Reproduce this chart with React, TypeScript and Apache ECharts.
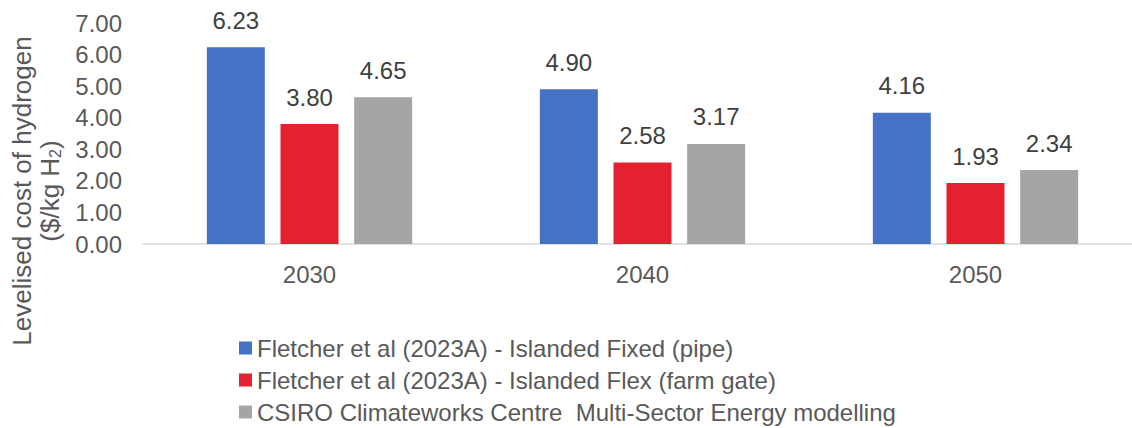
import React, { useEffect, useRef } from "react";
import * as echarts from "echarts";

const categories = ["2030", "2040", "2050"];
const seriesNames = [
  "Fletcher et al (2023A) - Islanded Fixed (pipe)",
  "Fletcher et al (2023A) - Islanded Flex (farm gate)",
  "CSIRO Climateworks Centre  Multi-Sector Energy modelling",
];
const fixedPipe = [6.23, 4.9, 4.16];
const flexFarmGate = [3.8, 2.58, 1.93];
const csiro = [4.65, 3.17, 2.34];
const colors = ["#4472C4", "#E42130", "#A5A5A5"];

const FONT = "Arial, 'Liberation Sans', sans-serif";

export default function App() {
  const ref = useRef<HTMLDivElement>(null);
  useEffect(() => {
    document.body.style.margin = "0";
    const chart = echarts.init(ref.current!, null, { renderer: "svg" });
    const values = [fixedPipe, flexFarmGate, csiro];
    chart.setOption({
      animation: false,
      textStyle: { fontFamily: FONT },
      grid: { left: 143, top: 23, width: 999, height: 221, outerBoundsMode: "none", containLabel: false },
      legend: {
        orient: "vertical",
        left: 239,
        top: 336,
        padding: 0,
        itemWidth: 13,
        itemHeight: 13,
        itemGap: 8,
        icon: "rect",
        textStyle: { fontSize: 24, color: "#595959", fontFamily: FONT },
        data: seriesNames,
      },
      xAxis: {
        type: "category",
        data: categories,
        axisTick: { show: false },
        axisLine: { lineStyle: { color: "#D9D9D9", width: 1.5 } },
        axisLabel: { fontSize: 24, color: "#595959", margin: 18, fontFamily: FONT },
      },
      yAxis: {
        type: "value",
        min: 0,
        max: 7,
        interval: 1,
        splitLine: { show: false },
        axisLine: { show: false },
        axisTick: { show: false },
        axisLabel: {
          fontSize: 24,
          color: "#595959",
          margin: 21,
          fontFamily: FONT,
          formatter: (v: number) => v.toFixed(2),
        },
      },
      graphic: [
        {
          type: "text",
          x: 22,
          y: 191,
          rotation: Math.PI / 2,
          style: {
            text: "Levelised cost of hydrogen",
            fontSize: 26,
            fontFamily: FONT,
            fill: "#595959",
            align: "center",
            verticalAlign: "middle",
          },
        },
        {
          type: "text",
          x: 50,
          y: 191,
          rotation: Math.PI / 2,
          style: {
            text: "($/kg H{s|2})",
            fontSize: 26,
            fontFamily: FONT,
            fill: "#595959",
            align: "center",
            verticalAlign: "middle",
            rich: {
              s: {
                fontSize: 16,
                fontFamily: FONT,
                fill: "#595959",
                verticalAlign: "bottom",
                padding: [10, 0, 0, 0],
              },
            },
          },
        },
      ],
      series: seriesNames.map((name, i) => ({
        name,
        type: "bar",
        data: values[i],
        barWidth: 58,
        barGap: "27%",
        itemStyle: { color: colors[i] },
        label: {
          show: true,
          position: "top",
          distance: 15,
          fontSize: 24,
          color: "#404040",
          fontFamily: FONT,
          formatter: (p: any) => Number(p.value).toFixed(2),
        },
      })),
    });
    return () => chart.dispose();
  }, []);
  return <div ref={ref} style={{ width: 1132, height: 428 }} />;
}
